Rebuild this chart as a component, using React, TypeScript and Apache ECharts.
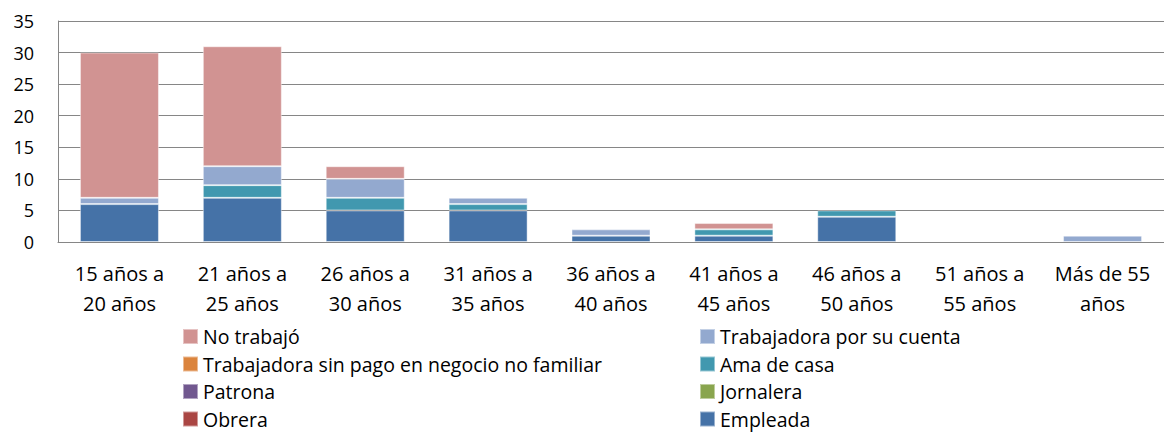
import React, { useEffect, useRef } from "react";
import * as echarts from "echarts";

const categories = [
  "15 años a\n20 años",
  "21 años a\n25 años",
  "26 años a\n30 años",
  "31 años a\n35 años",
  "36 años a\n40 años",
  "41 años a\n45 años",
  "46 años a\n50 años",
  "51 años a\n55 años",
  "Más de 55\naños",
];

const empleada = [6, 7, 5, 5, 1, 1, 4, 0, 0];
const obrera = [0, 0, 0, 0, 0, 0, 0, 0, 0];
const jornalera = [0, 0, 0, 0, 0, 0, 0, 0, 0];
const patrona = [0, 0, 0, 0, 0, 0, 0, 0, 0];
const amaDeCasa = [0, 2, 2, 1, 0, 1, 1, 0, 0];
const sinPago = [0, 0, 0, 0, 0, 0, 0, 0, 0];
const porSuCuenta = [1, 3, 3, 1, 1, 0, 0, 0, 1];
const noTrabajo = [23, 19, 2, 0, 0, 1, 0, 0, 0];

const yTicks = [0, 5, 10, 15, 20, 25, 30, 35];

const seriesDefs = [
  { name: "Empleada", data: empleada, color: "#4572A7" },
  { name: "Obrera", data: obrera, color: "#AA4643" },
  { name: "Jornalera", data: jornalera, color: "#89A54E" },
  { name: "Patrona", data: patrona, color: "#71588F" },
  { name: "Ama de casa", data: amaDeCasa, color: "#4198AF" },
  { name: "Trabajadora sin pago en negocio no familiar", data: sinPago, color: "#DB843D" },
  { name: "Trabajadora por su cuenta", data: porSuCuenta, color: "#93A9CF" },
  { name: "No trabajó", data: noTrabajo, color: "#D19392" },
];

// legend layout: [left column names, right column names]
const legendLeft = ["No trabajó", "Trabajadora sin pago en negocio no familiar", "Patrona", "Obrera"];
const legendRight = ["Trabajadora por su cuenta", "Ama de casa", "Jornalera", "Empleada"];

const FONT = "'Open Sans', 'Noto Sans', sans-serif";

export default function App() {
  const ref = useRef<HTMLDivElement>(null);
  useEffect(() => {
    if (!ref.current) return;
    const chart = echarts.init(ref.current, undefined, { renderer: "svg" });
    const legendText = { fontSize: 19.5, color: "#000", fontFamily: FONT, lineHeight: 15 };
    const rowTops = [326.5, 354, 381.5, 409];
    const mkLegend = (name: string, left: number, top: number) => ({
      orient: "horizontal",
      left,
      top,
      padding: 0,
      itemWidth: 15,
      itemHeight: 15,
      itemGap: 0,
      icon: "rect",
      selectedMode: false,
      textStyle: legendText,
      data: [name],
    });
    const legends = [
      ...legendLeft.map((n, i) => mkLegend(n, 182, rowTops[i])),
      ...legendRight.map((n, i) => mkLegend(n, 699, rowTops[i])),
    ];
    chart.setOption({
      animation: false,
      backgroundColor: "#fff",
      grid: { left: 58, top: 21, width: 1114, bottom: 191, containLabel: false },
      xAxis: {
        type: "category",
        data: categories,
        axisLine: { show: true, lineStyle: { color: "#868686", width: 1 } },
        axisTick: { show: false },
        axisLabel: {
          color: "#000",
          fontSize: 20,
          fontFamily: FONT,
          lineHeight: 29.5,
          margin: 17,
          interval: 0,
        },
      },
      yAxis: {
        type: "value",
        min: 0,
        max: yTicks[yTicks.length - 1],
        interval: 5,
        axisLine: { show: true, lineStyle: { color: "#868686", width: 1 } },
        axisTick: { show: false },
        splitLine: { lineStyle: { color: "#868686", width: 1 } },
        axisLabel: { color: "#000", fontSize: 18, fontFamily: FONT, margin: 24 },
      },
      legend: legends,
      series: seriesDefs.map((s) => ({
        name: s.name,
        type: "bar",
        stack: "total",
        data: s.data.map((v) => (v === 0 ? "-" : v)),
        barWidth: 79,
        itemStyle: { color: s.color, borderColor: "rgba(255,255,255,0.45)", borderWidth: 1 },
        emphasis: { disabled: true },
      })),
    });
    return () => chart.dispose();
  }, []);
  return <div ref={ref} style={{ width: 1164, height: 433, position: "absolute", left: 0, top: 0 }} />;
}
